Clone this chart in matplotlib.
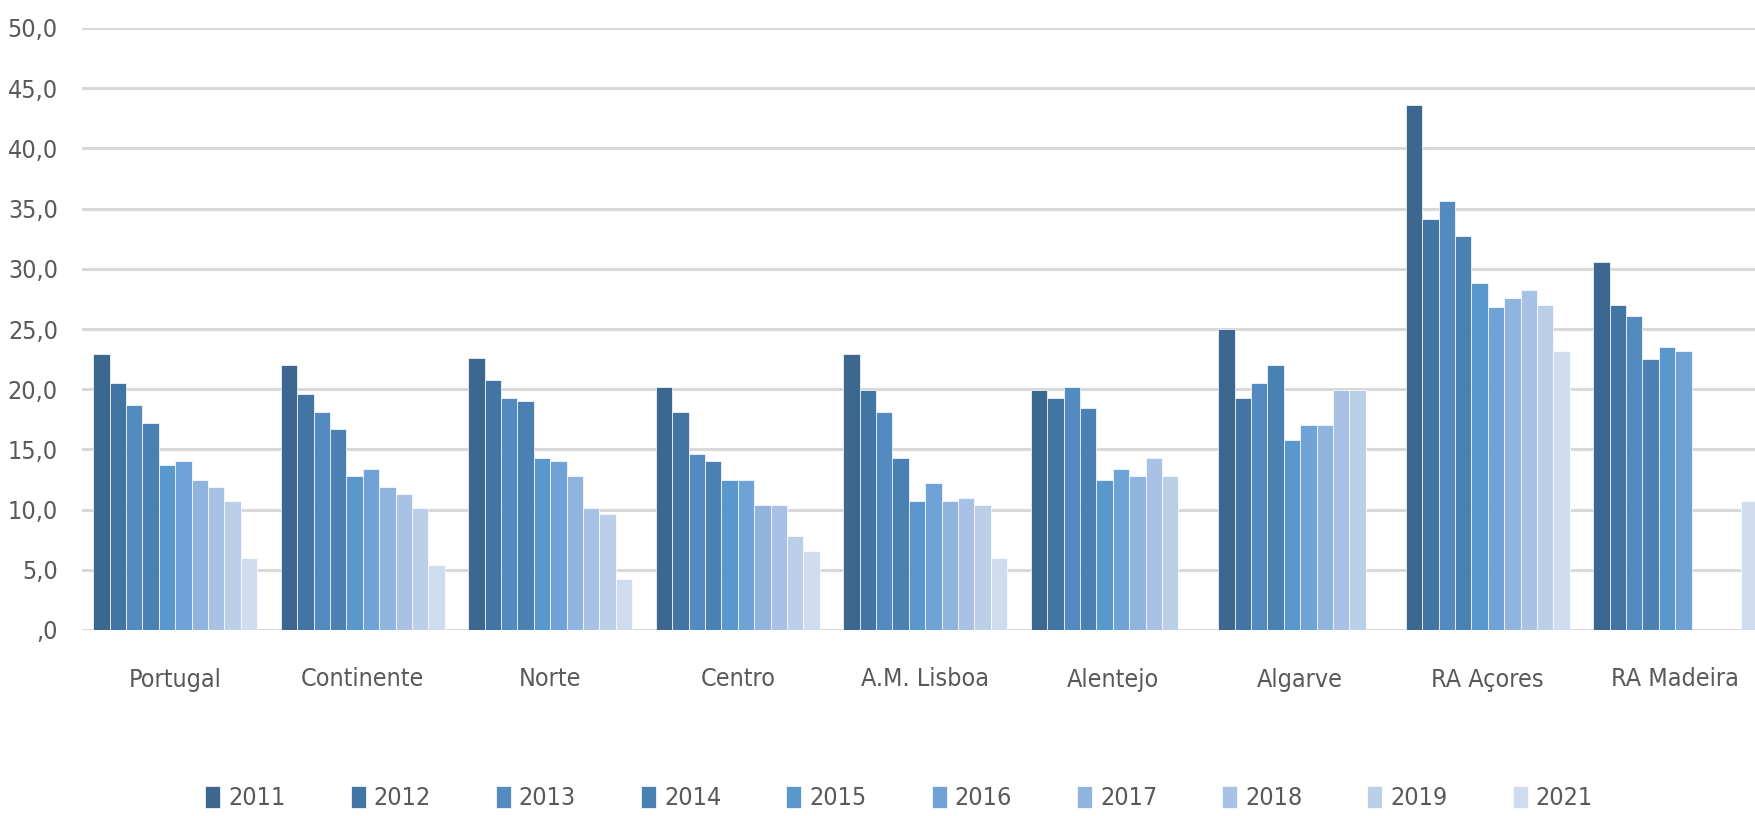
import numpy as np
import matplotlib
matplotlib.use('Agg')
import matplotlib.pyplot as plt
from matplotlib import font_manager

nan = np.nan

regioes = ['Portugal', 'Continente', 'Norte', 'Centro', 'A.M. Lisboa',
           'Alentejo', 'Algarve', 'RA Açores', 'RA Madeira']
anos = ['2011', '2012', '2013', '2014', '2015', '2016', '2017', '2018', '2019', '2021']

# valores por ano (um valor por região)
v2011 = [22.9, 22.0, 22.6, 20.2, 22.9, 19.9, 25.0, 43.6, 30.6]
v2012 = [20.5, 19.6, 20.8, 18.1, 19.9, 19.3, 19.3, 34.1, 27.0]
v2013 = [18.7, 18.1, 19.3, 14.6, 18.1, 20.2, 20.5, 35.6, 26.1]
v2014 = [17.2, 16.7, 19.0, 14.0, 14.3, 18.4, 22.0, 32.7, 22.5]
v2015 = [13.7, 12.8, 14.3, 12.5, 10.7, 12.5, 15.8, 28.8, 23.5]
v2016 = [14.0, 13.4, 14.0, 12.5, 12.2, 13.4, 17.0, 26.8, 23.2]
v2017 = [12.5, 11.9, 12.8, 10.4, 10.7, 12.8, 17.0, 27.6, nan]
v2018 = [11.9, 11.3, 10.1, 10.4, 11.0, 14.3, 19.9, 28.2, nan]
v2019 = [10.7, 10.1, 9.6, 7.8, 10.4, 12.8, 19.9, 27.0, nan]
v2021 = [6.0, 5.4, 4.2, 6.6, 6.0, nan, nan, 23.2, 10.7]
series = [v2011, v2012, v2013, v2014, v2015, v2016, v2017, v2018, v2019, v2021]

cores = ['#3c6890', '#4274a4', '#538bc1', '#4b80b3', '#5997cd',
         '#6fa3d7', '#8fb4de', '#a8c1e5', '#bccfe9', '#cfdbee']

# procura uma fonte estreita (o original usa uma fonte condensada)
fp = None
fs = 18
for nome, tam in [('LiberationSansNarrow-Regular', 21), ('DejaVuSansCondensed.ttf', 18),
                  ('RobotoCondensed-Regular', 18)]:
    for f in font_manager.fontManager.ttflist:
        if nome in f.fname:
            fp = font_manager.FontProperties(fname=f.fname)
            fs = tam
            break
    if fp is not None:
        break
if fp is None:
    plt.rcParams['font.family'] = ['Roboto', 'DejaVu Sans']
    fp = font_manager.FontProperties(family=['Roboto', 'DejaVu Sans'])
    fs = 18
fp.set_size(fs)
cinza = '#595959'

fig = plt.figure(figsize=(17.55, 8.16), dpi=100)
# a área do gráfico passa um pouco além da margem direita, como no original
ax = fig.add_axes([81.5 / 1755, 186 / 816, (1769 - 81.5) / 1755, 602 / 816])

x = np.arange(len(regioes))
w = 0.0874
for j, (ano, vals) in enumerate(zip(anos, series)):
    ax.bar(x + (j - 4.5) * w, vals, width=w, color=cores[j], label=ano,
           edgecolor='white', linewidth=0.5, zorder=3)

ax.set_xlim(-0.5, len(regioes) - 0.5)
ax.set_ylim(0, 50)
ax.set_yticks(np.arange(0, 51, 5))
ax.set_yticklabels([',0' if t == 0 else f'{t:.1f}'.replace('.', ',') for t in range(0, 51, 5)],
                   fontproperties=fp, color=cinza)
ax.set_xticks(x)
ax.set_xticklabels(regioes, fontproperties=fp, color=cinza)
ax.tick_params(axis='y', length=0, pad=17)
ax.tick_params(axis='x', length=0, pad=27)

ax.yaxis.grid(True, color='#d9d9d9', linewidth=2.2, zorder=0)
ax.set_axisbelow(True)
for s in ax.spines.values():
    s.set_visible(False)

px = fs * 100 / 72
leg = fig.legend(loc='center', bbox_to_anchor=(899 / 1755, 18 / 816), ncol=10,
                 frameon=False, prop=fp, handlelength=15 / px,
                 handleheight=25 / px, handletextpad=8 / px,
                 columnspacing=65 / px, borderpad=0)
for t in leg.get_texts():
    t.set_color(cinza)

fig.savefig('out.png', dpi=100)
